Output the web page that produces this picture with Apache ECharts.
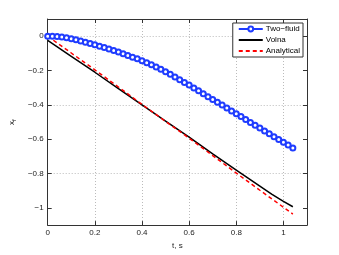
<!DOCTYPE html>
<html>
<head>
<meta charset="utf-8">
<script src="https://cdn.jsdelivr.net/npm/echarts@6/dist/echarts.min.js"></script>
<style>
html,body{margin:0;padding:0;background:#fff;}
#chart{width:339px;height:255px;}
</style>
</head>
<body>
<div id="chart"></div>
<script>
// ---- data ----
const tTwoFluid = [0,0.02,0.04,0.06,0.08,0.10,0.12,0.14,0.16,0.18,0.20,0.22,0.24,0.26,0.28,0.30,0.32,0.34,0.36,0.38,0.40,0.42,0.44,0.46,0.48,0.50,0.52,0.54,0.56,0.58,0.60,0.62,0.64,0.66,0.68,0.70,0.72,0.74,0.76,0.78,0.80,0.82,0.84,0.86,0.88,0.90,0.92,0.94,0.96,0.98,1.00,1.02,1.04];
const xTwoFluid = [0,-0.001,-0.002,-0.005,-0.009,-0.015,-0.021,-0.028,-0.035,-0.042,-0.050,-0.058,-0.066,-0.074,-0.083,-0.092,-0.102,-0.112,-0.122,-0.132,-0.143,-0.155,-0.167,-0.180,-0.193,-0.207,-0.222,-0.237,-0.253,-0.269,-0.285,-0.302,-0.318,-0.335,-0.352,-0.368,-0.385,-0.401,-0.418,-0.435,-0.451,-0.468,-0.485,-0.502,-0.518,-0.535,-0.552,-0.568,-0.585,-0.601,-0.618,-0.634,-0.651];
const tVolna = [0,0.1,0.2,0.3,0.4,0.5,0.6,0.7,0.8,0.9,0.95,1.0,1.04];
const xVolna = [-0.025,-0.118,-0.210,-0.305,-0.400,-0.494,-0.588,-0.685,-0.780,-0.873,-0.920,-0.962,-0.993];
const tAnalytical = [0,0.1,0.2,0.3,0.4,0.5,0.6,0.7,0.8,0.9,1.0,1.04];
const xAnalytical = [0,-0.098,-0.196,-0.296,-0.397,-0.496,-0.594,-0.695,-0.797,-0.897,-0.996,-1.036];
const yTickValues = [-1,-0.8,-0.6,-0.4,-0.2,0];
const seriesNames = ['Two\u2212fluid','Volna','Analytical'];

const FONT = 'Liberation Sans';
const AX = '#333';
const fmt = v => {
  const r = Math.round(v*10)/10;
  if (r === 0) return '0';
  const s = String(Math.abs(r));
  return (r < 0 ? '\u2212' : '') + s;
};

const chart = echarts.init(document.getElementById('chart'), null, {renderer:'canvas'});
const tickCommon = {show:true, inside:true, length:4, lineStyle:{color:AX, width:1}};
const noSym = {color:'rgba(0,0,0,0)', borderColor:'rgba(0,0,0,0)', borderWidth:0};
chart.setOption({
  animation:false,
  backgroundColor:'#fff',
  grid:{left:44, top:19, right:32, bottom:29, containLabel:false},
  legend:{
    orient:'vertical', right:36, top:23,
    data:[
      {name:seriesNames[0]},
      {name:seriesNames[1], itemStyle:noSym},
      {name:seriesNames[2], itemStyle:noSym}
    ],
    itemWidth:24, itemHeight:6, itemGap:3,
    padding:[2,3,2,5],
    backgroundColor:'#fff', borderColor:AX, borderWidth:1, borderRadius:0,
    textStyle:{fontFamily:FONT, fontSize:8, color:'#000', padding:[0,0,0,-2]}
  },
  xAxis:[{
    type:'value', min:0, max:1.1, interval:0.2, position:'bottom',
    name:'t, s', nameLocation:'middle', nameGap:13,
    nameTextStyle:{fontFamily:FONT, fontSize:8, color:'#222'},
    axisLine:{show:true, onZero:false, lineStyle:{color:AX, width:1}},
    axisTick:tickCommon,
    axisLabel:{fontFamily:FONT, fontSize:8, color:'#222', margin:4,
      formatter:v => (Math.abs(v-1.1)<1e-6 ? '' : fmt(v))},
    splitLine:{show:true, lineStyle:{color:'#bbb', type:[1,2], width:1}}
  },{
    type:'value', min:0, max:1.1, interval:0.2, position:'top',
    axisLine:{show:true, onZero:false, lineStyle:{color:AX, width:1}},
    axisTick:tickCommon, axisLabel:{show:false}, splitLine:{show:false}
  }],
  yAxis:[{
    type:'value', min:-1.1, max:0.1, interval:0.1, position:'left',
    name:'{a|x}{b|f}', nameLocation:'middle', nameGap:28,
    nameTextStyle:{fontFamily:FONT, fontSize:8, color:'#222',
      rich:{a:{fontFamily:FONT, fontSize:8, color:'#222'}, b:{fontFamily:FONT, fontSize:6, color:'#222', verticalAlign:'bottom', padding:[4,0,0,0]}}},
    axisLine:{show:true, onZero:false, lineStyle:{color:AX, width:1}},
    axisTick:Object.assign({customValues:yTickValues}, tickCommon),
    axisLabel:{fontFamily:FONT, fontSize:8, color:'#222', margin:4, customValues:yTickValues, formatter:fmt},
    splitLine:{show:true, lineStyle:{color:['rgba(0,0,0,0)','#bbb'], type:[1,2], width:1}}
  },{
    type:'value', min:-1.1, max:0.1, interval:0.1, position:'right',
    axisLine:{show:true, onZero:false, lineStyle:{color:AX, width:1}},
    axisTick:Object.assign({customValues:yTickValues}, tickCommon),
    axisLabel:{show:false}, splitLine:{show:false}
  }],
  series:[{
    name:seriesNames[0], type:'line', xAxisIndex:0, yAxisIndex:0,
    data:tTwoFluid.map((t,i)=>[t, xTwoFluid[i]]),
    symbol:'emptyCircle', symbolSize:5, showSymbol:true,
    lineStyle:{color:'#1f3cff', width:1},
    itemStyle:{color:'#1f3cff', borderColor:'#1f3cff', borderWidth:1},
    z:3
  },{
    name:seriesNames[1], type:'line', xAxisIndex:0, yAxisIndex:0,
    data:tVolna.map((t,i)=>[t, xVolna[i]]),
    symbol:'none', lineStyle:{color:'#000', width:1.5},
    itemStyle:{color:'#000'}, z:2
  },{
    name:seriesNames[2], type:'line', xAxisIndex:0, yAxisIndex:0,
    data:tAnalytical.map((t,i)=>[t, xAnalytical[i]]),
    symbol:'none', lineStyle:{color:'#ff0000', width:1.5, type:[4,3]},
    itemStyle:{color:'#ff0000'}, z:2
  }]
});
</script>
</body>
</html>
